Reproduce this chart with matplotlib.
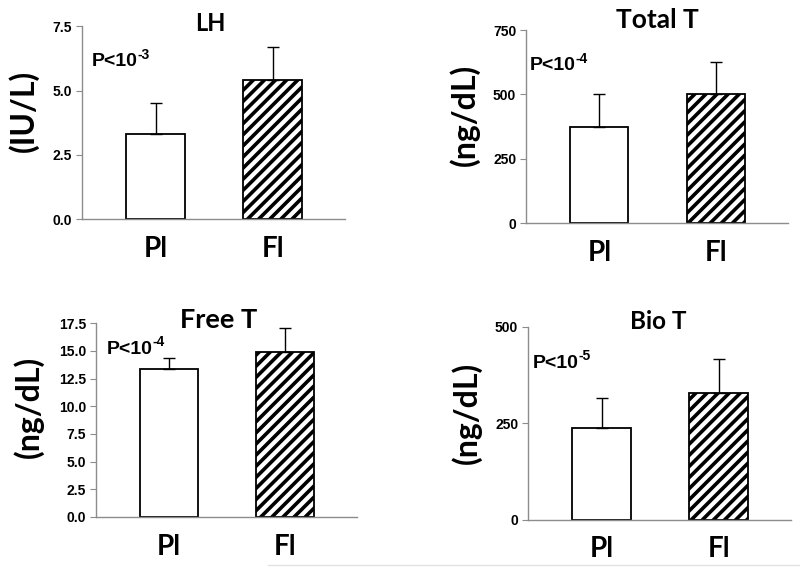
import numpy as np
import matplotlib
matplotlib.use("Agg")
import matplotlib.pyplot as plt
from matplotlib.lines import Line2D

plt.rcParams['hatch.linewidth'] = 2.6

groups = ["Pl", "Fl"]
titles = ["LH", "Total T", "Free T", "Bio T"]
units = ["(IU/L)", "(ng/dL)", "(ng/dL)", "(ng/dL)"]
pvals = ["-3", "-4", "-4", "-5"]

pl_mean = [3.3, 372, 13.4, 238]
pl_err = [1.2, 128, 1.0, 78]
fl_mean = [5.4, 500, 14.9, 328]
fl_err = [1.3, 127, 2.2, 88]

yticks = [[0, 2.5, 5.0, 7.5],
          [0, 250, 500, 750],
          [0, 2.5, 5.0, 7.5, 10.0, 12.5, 15.0, 17.5],
          [0, 250, 500]]
tickfmt = ["{:.1f}", "{:.0f}", "{:.1f}", "{:.0f}"]

# layout (figure fractions) and text placement, per panel
ax_pos = [[0.1025, 0.614, 0.329, 0.340],
          [0.6575, 0.607, 0.3275, 0.340],
          [0.120, 0.090, 0.326, 0.341],
          [0.660, 0.085, 0.329, 0.340]]
title_xy = [(0.487, 1.016), (0.50, 1.052), (0.471, 1.015), (0.494, 1.026)]
title_size = [17, 19, 19.5, 17.5]
p_xy = [(0.038, 0.815), (0.015, 0.815), (0.042, 0.866), (0.019, 0.81)]
ylab_xy = [(-0.224, 0.56), (-0.233, 0.56), (-0.26, 0.567), (-0.232, 0.554)]

fig = plt.figure(figsize=(8, 5.68), dpi=100)
x = np.arange(len(groups))
axis_gray = "#8c8c8c"
ekw = dict(ecolor="black", elinewidth=1, capsize=4, capthick=1)

for i in range(4):
    ax = fig.add_axes(ax_pos[i])
    ax.bar(x[0], pl_mean[i], 0.5, color="white", edgecolor="black", linewidth=1.3,
           yerr=[[0], [pl_err[i]]], error_kw=ekw)
    ax.bar(x[1], fl_mean[i], 0.5, color="white", edgecolor="black", linewidth=1.3, hatch="///",
           yerr=[[0], [fl_err[i]]], error_kw=ekw)
    ax.set_xlim(-0.63, 1.62)
    ax.set_ylim(0, yticks[i][-1])
    ax.set_yticks(yticks[i])
    ax.set_yticklabels([tickfmt[i].format(v) for v in yticks[i]],
                       fontsize=10, fontweight="bold", family="Liberation Sans")
    ax.set_xticks(x)
    ax.set_xticklabels(groups, fontsize=20, fontweight="bold", family="Lato")
    ax.tick_params(axis="x", length=0, pad=12)
    ax.tick_params(axis="y", length=4, color=axis_gray, pad=3)
    for s in ["top", "right"]:
        ax.spines[s].set_visible(False)
    for s in ["left", "bottom"]:
        ax.spines[s].set_color(axis_gray)
        ax.spines[s].set_linewidth(1)
    ax.text(*title_xy[i], titles[i], transform=ax.transAxes, ha="center", va="center",
            fontsize=title_size[i], fontweight="bold", family="Lato")
    pt = ax.text(*p_xy[i], "P<10", transform=ax.transAxes, ha="left",
                 va="center", fontsize=14, fontweight="bold", family="Liberation Sans")
    ax.annotate(pvals[i], xy=(1.0, 0.5), xycoords=pt, ha="left", va="bottom",
                fontsize=10, fontweight="bold", family="Liberation Sans")
    ax.text(*ylab_xy[i], units[i], transform=ax.transAxes, ha="center", va="center",
            rotation=90, fontsize=23, fontweight="bold", family="Lato")

fig.add_artist(Line2D([0.335, 1.0], [0.005, 0.005], transform=fig.transFigure,
                      color="#e2e2e2", linewidth=1))

fig.savefig("out.png", dpi=100)
